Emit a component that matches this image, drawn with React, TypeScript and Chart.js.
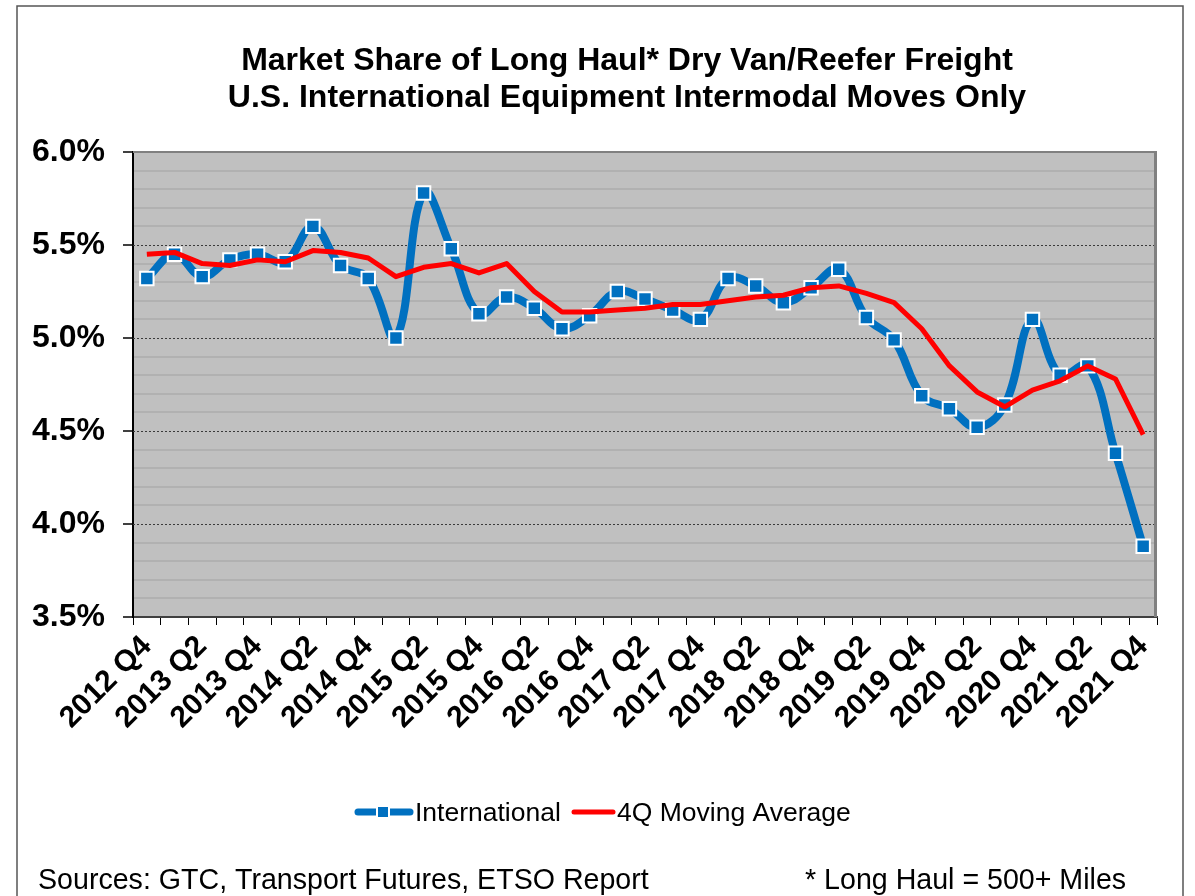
import React, { useEffect, useRef } from "react";
import { Chart, registerables } from "chart.js";

Chart.register(...registerables);

const quarters = [
  "2012 Q4",
  "2013 Q1", "2013 Q2", "2013 Q3", "2013 Q4",
  "2014 Q1", "2014 Q2", "2014 Q3", "2014 Q4",
  "2015 Q1", "2015 Q2", "2015 Q3", "2015 Q4",
  "2016 Q1", "2016 Q2", "2016 Q3", "2016 Q4",
  "2017 Q1", "2017 Q2", "2017 Q3", "2017 Q4",
  "2018 Q1", "2018 Q2", "2018 Q3", "2018 Q4",
  "2019 Q1", "2019 Q2", "2019 Q3", "2019 Q4",
  "2020 Q1", "2020 Q2", "2020 Q3", "2020 Q4",
  "2021 Q1", "2021 Q2", "2021 Q3", "2021 Q4",
];

const international = [
  5.32, 5.45, 5.33, 5.42, 5.45, 5.41, 5.60, 5.39, 5.32, 5.00, 5.78, 5.48,
  5.13, 5.22, 5.16, 5.05, 5.12, 5.25, 5.21, 5.15, 5.10, 5.32, 5.28, 5.19,
  5.27, 5.37, 5.11, 4.99, 4.69, 4.62, 4.52, 4.64, 5.10, 4.80, 4.85, 4.38, 3.88,
];

const movingAverage = [
  5.45, 5.46, 5.40, 5.39, 5.42, 5.41, 5.47, 5.46, 5.43, 5.33, 5.38, 5.40,
  5.35, 5.40, 5.25, 5.14, 5.14, 5.15, 5.16, 5.18, 5.18, 5.20, 5.22, 5.23,
  5.27, 5.28, 5.24, 5.19, 5.05, 4.85, 4.71, 4.63, 4.72, 4.77, 4.85, 4.78, 4.48,
];

const titleLines = [
  "Market Share of Long Haul* Dry Van/Reefer Freight",
  "U.S. International Equipment Intermodal Moves Only",
];
const seriesNames = ["International", "4Q Moving Average"];
const sourceNote = "Sources: GTC, Transport Futures, ETSO Report";
const haulNote = "* Long Haul = 500+ Miles";

const BLUE = "#0070C0";
const RED = "#FF0000";
const FONT = '"Liberation Sans", Arial, sans-serif';

const isMajor = (v: number) => Math.abs(v * 2 - Math.round(v * 2)) < 1e-6;

const decorPlugin = {
  id: "decor",
  beforeDraw(chart: any) {
    const { ctx, chartArea: a } = chart;
    ctx.save();
    ctx.fillStyle = "#FFFFFF";
    ctx.fillRect(0, 0, chart.width, chart.height);
    ctx.fillStyle = "#C0C0C0";
    ctx.fillRect(a.left, a.top, a.right - a.left, a.bottom - a.top);
    ctx.restore();
  },
  beforeDatasetsDraw(chart: any) {
    const { ctx, chartArea: a } = chart;
    const y = chart.scales.y;
    ctx.save();
    ctx.strokeStyle = "#3A3A3A";
    ctx.lineWidth = 1;
    ctx.setLineDash([2, 2]);
    for (const v of [4.0, 4.5, 5.0, 5.5]) {
      const py = Math.round(y.getPixelForValue(v)) + 0.5;
      ctx.beginPath();
      ctx.moveTo(a.left, py);
      ctx.lineTo(a.right, py);
      ctx.stroke();
    }
    ctx.setLineDash([]);
    ctx.strokeStyle = "#808080";
    ctx.lineWidth = 2;
    ctx.beginPath();
    ctx.moveTo(a.left, a.top);
    ctx.lineTo(a.right, a.top);
    ctx.stroke();
    ctx.lineWidth = 3;
    ctx.beginPath();
    ctx.moveTo(a.right - 1.5, a.top);
    ctx.lineTo(a.right - 1.5, a.bottom);
    ctx.stroke();
    ctx.restore();
  },
  afterDraw(chart: any) {
    const { ctx } = chart;
    ctx.save();
    // title
    ctx.fillStyle = "#000";
    ctx.textAlign = "center";
    ctx.textBaseline = "alphabetic";
    ctx.font = `bold 32px ${FONT}`;
    ctx.fillText(titleLines[0], 627, 70);
    ctx.fillText(titleLines[1], 627, 107);

    // legend
    const ly = 812;
    ctx.lineCap = "round";
    ctx.strokeStyle = BLUE;
    ctx.lineWidth = 7;
    ctx.beginPath();
    ctx.moveTo(358, ly);
    ctx.lineTo(410, ly);
    ctx.stroke();
    ctx.fillStyle = "#FFFFFF";
    ctx.fillRect(376, ly - 7, 14, 14);
    ctx.fillStyle = BLUE;
    ctx.fillRect(378, ly - 5, 10, 10);
    ctx.strokeStyle = RED;
    ctx.lineWidth = 5;
    ctx.beginPath();
    ctx.moveTo(574, ly);
    ctx.lineTo(613, ly);
    ctx.stroke();
    ctx.fillStyle = "#000";
    ctx.textAlign = "left";
    ctx.font = `26.5px ${FONT}`;
    ctx.fillText(seriesNames[0], 415, 821);
    ctx.fillText(seriesNames[1], 617, 821);

    // footnotes
    ctx.font = `28.6px ${FONT}`;
    ctx.fillText(sourceNote, 38, 889);
    ctx.fillText(haulNote, 805, 889);

    // outer frame
    ctx.strokeStyle = "#555555";
    ctx.lineWidth = 1.5;
    ctx.beginPath();
    ctx.moveTo(17, 900);
    ctx.lineTo(17, 6);
    ctx.lineTo(1183, 6);
    ctx.lineTo(1183, 900);
    ctx.stroke();
    ctx.restore();
  },
};

export default function App() {
  const canvasRef = useRef<HTMLCanvasElement | null>(null);

  useEffect(() => {
    document.body.style.margin = "0";
    const canvas = canvasRef.current;
    if (!canvas) return;
    const chart = new Chart(canvas, {
      type: "line",
      data: {
        labels: quarters,
        datasets: [
          {
            label: seriesNames[0],
            data: international,
            borderColor: BLUE,
            backgroundColor: BLUE,
            borderWidth: 8,
            tension: 0.4,
            pointStyle: "rect",
            pointRadius: 9.5,
            pointBackgroundColor: BLUE,
            pointBorderColor: "#FFFFFF",
            pointBorderWidth: 2,
            order: 2,
          },
          {
            label: seriesNames[1],
            data: movingAverage,
            borderColor: RED,
            backgroundColor: RED,
            borderWidth: 5,
            tension: 0,
            pointRadius: 0,
            borderJoinStyle: "round",
            order: 1,
          },
        ],
      },
      plugins: [decorPlugin],
      options: {
        responsive: false,
        animation: false,
        devicePixelRatio: 1,
        layout: { padding: { top: 152, left: 0, right: 38, bottom: 129 } },
        plugins: {
          legend: { display: false },
          tooltip: { enabled: false },
          title: { display: false },
        },
        scales: {
          x: {
            type: "category",
            offset: true,
            afterFit: (s: any) => {
              s.height = 150;
            },
            grid: {
              offset: true,
              drawOnChartArea: false,
              drawTicks: true,
              tickLength: 8,
              tickColor: "#000",
              tickWidth: 1,
            },
            border: { display: true, color: "#404040", width: 2 },
            ticks: {
              autoSkip: false,
              maxRotation: 45,
              minRotation: 45,
              padding: 4,
              color: "#000",
              font: { family: FONT, size: 30, weight: "bold" },
              callback: (_v: any, i: number) => (i % 2 === 0 ? quarters[i] : ""),
            },
          },
          y: {
            min: 3.5,
            max: 6.0,
            afterFit: (s: any) => {
              s.width = 133;
            },
            grid: {
              color: (c: any) =>
                c.tick && isMajor(c.tick.value) ? "rgba(0,0,0,0)" : "#B1B1B1",
              lineWidth: 2,
              drawTicks: true,
              tickLength: 10,
              tickColor: (c: any) =>
                c.tick && isMajor(c.tick.value) ? "#000" : "rgba(0,0,0,0)",
              tickWidth: 1.5,
            },
            border: { display: true, color: "#000", width: 2 },
            ticks: {
              stepSize: 0.1,
              autoSkip: false,
              padding: 18,
              color: "#000",
              font: { family: FONT, size: 32, weight: "bold" },
              callback: (v: any) => (isMajor(Number(v)) ? Number(v).toFixed(1) + "%" : ""),
            },
          },
        },
      },
    } as any);
    return () => chart.destroy();
  }, []);

  return (
    <div style={{ width: 1195, height: 896, position: "relative" }}>
      <canvas
        ref={canvasRef}
        width={1195}
        height={896}
        style={{ display: "block", width: 1195, height: 896 }}
      />
    </div>
  );
}
